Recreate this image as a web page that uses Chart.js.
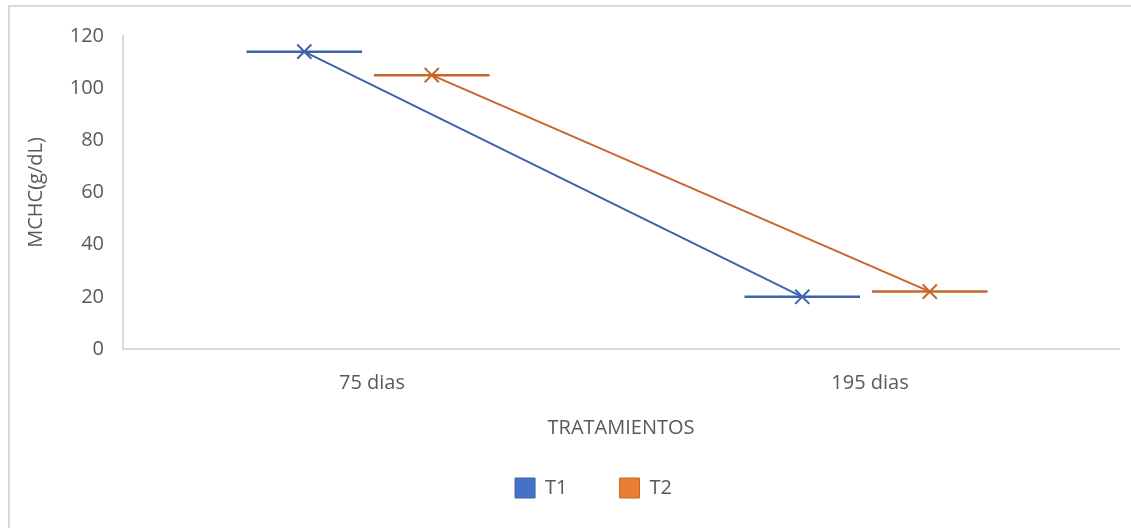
<!DOCTYPE html>
<html>
<head>
<meta charset="utf-8">
<script src="https://cdn.jsdelivr.net/npm/chart.js@4.4.1/dist/chart.umd.min.js"></script>
<style>
  body { margin: 0; background: #fff; }
  #wrap { position: relative; width: 1131px; height: 528px; overflow: hidden; }
  #frame { position: absolute; left: 8px; top: 5px; width: 1200px; height: 600px;
           border-left: 2px solid #d9d9d9; border-top: 2px solid #d9d9d9; }
  canvas { position: absolute; left: 0; top: 0; }
</style>
</head>
<body>
<div id="wrap">
  <div id="frame"></div>
  <canvas id="myChart" width="1131" height="528"></canvas>
</div>
<script>
// data
var categories = ['75 dias', '195 dias'];
var seriesNames = ['T1', 'T2'];
var t1 = [114, 20];
var t2 = [105, 22];
var yTicks = [0, 20, 40, 60, 80, 100, 120];

// look
var lineColors = ['#3c63ab', '#c8662b'];
var legendColors = ['#4472c4', '#ed7d31'];
var offsets = [-0.136, 0.12];   // where each series sits inside a category
var barHalf = 0.116;            // half width of the horizontal bars
var font = "'Open Sans', sans-serif";

Chart.defaults.font.family = font;
Chart.defaults.color = '#595959';

var datasets = [];
[t1, t2].forEach(function(vals, s) {
    datasets.push({
        label: seriesNames[s],
        data: vals.map(function(v, i) { return {x: i + offsets[s], y: v}; }),
        showLine: true,
        borderColor: lineColors[s],
        backgroundColor: legendColors[s],
        borderWidth: 2,
        pointStyle: 'crossRot',
        pointRadius: 10,
        pointBorderWidth: 2,
        pointBorderColor: lineColors[s],
        order: 0
    });
    vals.forEach(function(v, i) {
        datasets.push({
            label: 'bar',
            data: [{x: i + offsets[s] - barHalf, y: v}, {x: i + offsets[s] + barHalf, y: v}],
            showLine: true,
            borderColor: lineColors[s],
            borderWidth: 2.5,
            pointRadius: 0,
            order: 1
        });
    });
});

var ctx = document.getElementById('myChart').getContext('2d');
var chart = new Chart(ctx, {
    type: 'scatter',
    data: { datasets: datasets },
    options: {
        responsive: false,
        animation: false,
        // left padding only re-centres the legend; the y scale box is shrunk to match
        layout: { padding: { left: 66, right: 10, top: 36, bottom: 20 } },
        plugins: {
            tooltip: { enabled: false },
            legend: {
                position: 'bottom',
                labels: {
                    font: { size: 20 },
                    color: '#595959',
                    boxWidth: 20,
                    boxHeight: 20,
                    padding: 52,
                    generateLabels: function(c) {
                        return seriesNames.map(function(n, s) {
                            return { text: n, fillStyle: legendColors[s], strokeStyle: lineColors[s],
                                     lineWidth: 1, fontColor: '#595959', datasetIndex: s };
                        });
                    }
                }
            }
        },
        scales: {
            x: {
                type: 'linear',
                min: -0.5,
                max: 1.5,
                afterBuildTicks: function(scale) {
                    scale.ticks = categories.map(function(c, i) { return {value: i}; });
                },
                afterFit: function(scale) { scale.height = 77; },
                grid: { display: false, drawTicks: false },
                border: { color: '#d9d9d9', width: 2 },
                ticks: {
                    padding: 22,
                    font: { size: 20 },
                    color: '#595959',
                    callback: function(v) { return categories[v]; }
                },
                title: { display: true, text: 'TRATAMIENTOS', font: { size: 20 }, color: '#595959',
                         padding: { top: 10, bottom: -14 } }
            },
            y: {
                min: 0,
                max: 120,
                afterBuildTicks: function(scale) {
                    scale.ticks = yTicks.map(function(v) { return {value: v}; });
                },
                afterFit: function(scale) { scale.width = 57; },
                grid: { display: false, drawTicks: false },
                border: { color: '#d9d9d9', width: 2 },
                ticks: { padding: 19, font: { size: 20 }, color: '#595959' },
                title: { display: true, text: 'MCHC(g/dL)', font: { size: 20 }, color: '#595959',
                         padding: { top: -42, bottom: 0 } }
            }
        }
    }
});
</script>
</body>
</html>
